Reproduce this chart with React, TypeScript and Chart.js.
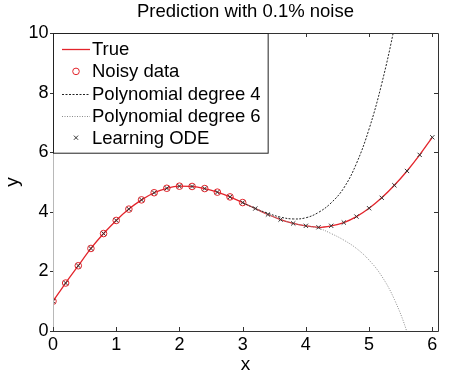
import React, { useEffect, useRef } from 'react';
import { Chart, registerables } from 'chart.js';
Chart.register(...registerables);

const titleText = 'Prediction with 0.1% noise';
const seriesLabels = ['True', 'Noisy data', 'Polynomial degree 4', 'Polynomial degree 6', 'Learning ODE'];
const xTicks = [0, 1, 2, 3, 4, 5, 6];
const yTicks = [0, 2, 4, 6, 8, 10];

const xAll = [0, 0.2, 0.4, 0.6, 0.8, 1.0, 1.2, 1.4, 1.6, 1.8, 2.0, 2.2, 2.4, 2.6, 2.8, 3.0, 3.2, 3.4, 3.6, 3.8, 4.0, 4.2, 4.4, 4.6, 4.8, 5.0, 5.2, 5.4, 5.6, 5.8, 6.0];
const trueY = [1.0, 1.61, 2.19, 2.77, 3.27, 3.71, 4.09, 4.40, 4.64, 4.79, 4.86, 4.85, 4.78, 4.66, 4.50, 4.31, 4.11, 3.91, 3.74, 3.61, 3.53, 3.48, 3.53, 3.64, 3.84, 4.12, 4.47, 4.89, 5.37, 5.91, 6.50];

const xNoisy = [0, 0.2, 0.4, 0.6, 0.8, 1.0, 1.2, 1.4, 1.6, 1.8, 2.0, 2.2, 2.4, 2.6, 2.8, 3.0];
const noisyY = [1.0, 1.61, 2.19, 2.77, 3.27, 3.71, 4.09, 4.40, 4.64, 4.79, 4.86, 4.85, 4.78, 4.66, 4.50, 4.31];

const xPoly4 = [3.0, 3.2, 3.4, 3.6, 3.8, 4.0, 4.2, 4.4, 4.6, 4.8, 5.0, 5.2, 5.4, 5.6];
const poly4Y = [4.31, 4.11, 3.95, 3.82, 3.76, 3.80, 3.98, 4.30, 4.80, 5.62, 6.78, 8.30, 10.2, 12.5];

const xPoly6 = [3.0, 3.2, 3.4, 3.6, 3.8, 4.0, 4.2, 4.4, 4.6, 4.8, 5.0, 5.2, 5.4, 5.6, 5.8];
const poly6Y = [4.31, 4.11, 3.91, 3.74, 3.61, 3.53, 3.45, 3.27, 3.05, 2.77, 2.38, 1.84, 1.06, -0.04, -1.6];

const xOde = [0, 0.2, 0.4, 0.6, 0.8, 1.0, 1.2, 1.4, 1.6, 1.8, 2.0, 2.2, 2.4, 2.6, 2.8, 3.0, 3.2, 3.4, 3.6, 3.8, 4.0, 4.2, 4.4, 4.6, 4.8, 5.0, 5.2, 5.4, 5.6, 5.8, 6.0];
const odeY = [1.0, 1.61, 2.19, 2.77, 3.27, 3.71, 4.09, 4.40, 4.64, 4.79, 4.86, 4.85, 4.78, 4.66, 4.50, 4.31, 4.11, 3.91, 3.74, 3.61, 3.53, 3.48, 3.53, 3.64, 3.84, 4.12, 4.47, 4.89, 5.37, 5.91, 6.50];

const FONT = "'Liberation Sans', Arial, Helvetica, sans-serif";
const RED = '#e3242b';
const DARK = '#222222';
const GRAY = '#8a8a8a';

const pts = (xs: number[], ys: number[]) => xs.map((x, i) => ({ x, y: ys[i] }));

const boxPlugin = {
  id: 'matlabBox',
  afterDatasetsDraw(chart: any) {
    const { ctx, chartArea: a, scales } = chart;
    const xs = scales.x;
    const ys = scales.y;
    ctx.save();
    ctx.lineWidth = 1;
    ctx.strokeStyle = '#b8b8b8';
    ctx.beginPath();
    ctx.moveTo(a.left + 0.5, a.top);
    ctx.lineTo(a.left + 0.5, a.bottom);
    ctx.stroke();
    ctx.strokeStyle = '#333333';
    ctx.beginPath();
    ctx.moveTo(a.left, a.top + 0.5);
    ctx.lineTo(a.right + 0.5, a.top + 0.5);
    ctx.lineTo(a.right + 0.5, a.bottom + 0.5);
    ctx.lineTo(a.left, a.bottom + 0.5);
    ctx.stroke();
    ctx.beginPath();
    xTicks.forEach((v) => {
      const px = Math.round(xs.getPixelForValue(v)) + 0.5;
      ctx.moveTo(px, a.bottom);
      ctx.lineTo(px, a.bottom - 4);
      ctx.moveTo(px, a.top);
      ctx.lineTo(px, a.top + 4);
    });
    yTicks.forEach((v) => {
      const py = Math.round(ys.getPixelForValue(v)) + 0.5;
      ctx.moveTo(a.left - 3, py);
      ctx.lineTo(a.left, py);
      ctx.moveTo(a.right, py);
      ctx.lineTo(a.right - 4, py);
    });
    ctx.stroke();

    const fs = 18.5;
    ctx.font = `${fs}px ${FONT}`;
    let maxW = 0;
    seriesLabels.forEach((l) => { maxW = Math.max(maxW, ctx.measureText(l).width); });
    const bx = a.left;
    const by = a.top;
    const textX = bx + 39;
    const bw = textX - bx + maxW + 7;
    const rowH = 22.1;
    const bh = 16.3 + rowH * 4 + 15;
    ctx.fillStyle = '#ffffff';
    ctx.fillRect(bx, by, bw, bh);
    ctx.strokeStyle = '#222222';
    ctx.strokeRect(bx + 0.5, by + 0.5, bw, bh);
    const datasets = chart.data.datasets;
    ctx.textBaseline = 'middle';
    ctx.textAlign = 'left';
    seriesLabels.forEach((l, i) => {
      const cy = by + 16.3 + rowH * i;
      const ds = datasets[i];
      const x0 = bx + 9;
      const x1 = bx + 37;
      const xm = (x0 + x1) / 2;
      ctx.save();
      if (ds.showLine !== false) {
        ctx.strokeStyle = ds.borderColor;
        ctx.lineWidth = ds.borderWidth;
        ctx.setLineDash(ds.borderDash || []);
        ctx.beginPath();
        ctx.moveTo(x0, Math.round(cy) + 0.5);
        ctx.lineTo(x1, Math.round(cy) + 0.5);
        ctx.stroke();
      }
      ctx.setLineDash([]);
      if (ds.pointRadius > 0) {
        ctx.strokeStyle = ds.pointBorderColor;
        ctx.lineWidth = 1;
        ctx.beginPath();
        if (ds.pointStyle === 'circle') {
          ctx.arc(xm, cy, ds.pointRadius, 0, Math.PI * 2);
        } else {
          const r = ds.pointRadius;
          ctx.moveTo(xm - r * 0.7, cy - r * 0.7);
          ctx.lineTo(xm + r * 0.7, cy + r * 0.7);
          ctx.moveTo(xm - r * 0.7, cy + r * 0.7);
          ctx.lineTo(xm + r * 0.7, cy - r * 0.7);
        }
        ctx.stroke();
      }
      ctx.restore();
      ctx.fillStyle = '#000000';
      ctx.font = `${fs}px ${FONT}`;
      ctx.fillText(l, textX, cy + 1);
    });
    ctx.restore();
  },
};

export default function App() {
  const ref = useRef<HTMLCanvasElement | null>(null);
  useEffect(() => {
    document.body.style.margin = '0';
    const canvas = ref.current;
    if (!canvas) return;
    const chart = new Chart(canvas, {
      type: 'line',
      data: {
        datasets: [
          {
            label: seriesLabels[0],
            data: pts(xAll, trueY),
            borderColor: RED,
            borderWidth: 1.3,
            pointRadius: 0,
            cubicInterpolationMode: 'monotone',
            fill: false,
            order: 5,
            clip: 0,
          },
          {
            label: seriesLabels[1],
            data: pts(xNoisy, noisyY),
            showLine: false,
            borderColor: RED,
            pointStyle: 'circle',
            pointRadius: 3.3,
            pointBorderColor: RED,
            pointBackgroundColor: 'rgba(0,0,0,0)',
            pointBorderWidth: 1,
            order: 4,
            clip: 0,
          },
          {
            label: seriesLabels[2],
            data: pts(xPoly4, poly4Y),
            borderColor: DARK,
            borderWidth: 1,
            borderDash: [2, 1.5],
            pointRadius: 0,
            tension: 0.4,
            fill: false,
            order: 3,
            clip: 0,
          },
          {
            label: seriesLabels[3],
            data: pts(xPoly6, poly6Y),
            borderColor: GRAY,
            borderWidth: 1,
            borderDash: [1, 1.5],
            pointRadius: 0,
            tension: 0.4,
            fill: false,
            order: 2,
            clip: 0,
          },
          {
            label: seriesLabels[4],
            data: pts(xOde, odeY),
            showLine: false,
            borderColor: DARK,
            pointStyle: 'crossRot',
            pointRadius: 3,
            pointBorderColor: '#333333',
            pointBorderWidth: 1,
            order: 1,
            clip: 0,
          },
        ],
      },
      options: {
        animation: false,
        responsive: false,
        devicePixelRatio: 1,
        events: [],
        layout: { padding: { left: 0, right: 12, top: 0, bottom: 0 } },
        plugins: {
          legend: { display: false },
          tooltip: { enabled: false },
          title: {
            display: true,
            text: titleText,
            fullSize: false,
            color: '#000',
            font: { family: FONT, size: 18.5, weight: 'normal', lineHeight: 1.2 },
            padding: { top: 1, bottom: 9.8 },
          },
        },
        scales: {
          x: {
            type: 'linear',
            min: 0,
            max: 6.09,
            grid: { display: false, drawTicks: false },
            border: { display: false },
            ticks: {
              stepSize: 1,
              includeBounds: false,
              color: '#000',
              padding: 3,
              font: { family: FONT, size: 18 },
              maxRotation: 0,
              callback: (v: any) => (xTicks.includes(Number(v)) ? String(v) : ''),
            },
            title: {
              display: true,
              text: 'x',
              color: '#000',
              font: { family: FONT, size: 19, lineHeight: 1 },
              padding: { top: 0, bottom: 0 },
            },
            afterFit: (s: any) => { s.height = 43; },
          },
          y: {
            type: 'linear',
            min: 0,
            max: 10,
            grid: { display: false, drawTicks: false },
            border: { display: false },
            ticks: {
              stepSize: 2,
              color: '#000',
              padding: 4.5,
              font: { family: FONT, size: 18 },
              callback: (v: any) => (yTicks.includes(Number(v)) ? String(v) : ''),
            },
            title: {
              display: true,
              text: 'y',
              color: '#000',
              font: { family: FONT, size: 19, lineHeight: 1 },
              padding: { top: 2.8, bottom: 2.8 },
            },
            afterFit: (s: any) => { s.width = 53; },
          },
        },
      },
      plugins: [boxPlugin],
    } as any);
    return () => chart.destroy();
  }, []);
  return (
    <div style={{ width: 450, height: 374, background: '#fff' }}>
      <canvas ref={ref} width={450} height={374} style={{ display: 'block', width: 450, height: 374 }} />
    </div>
  );
}
